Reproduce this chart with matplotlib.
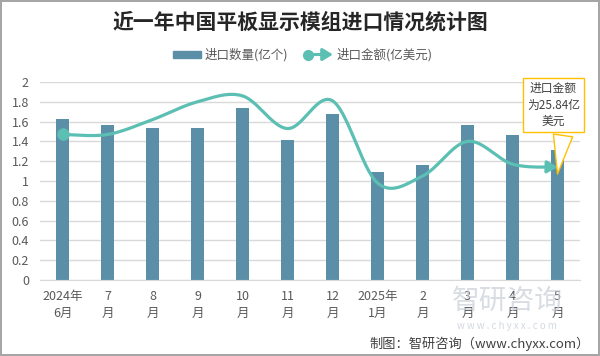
import numpy as np
import matplotlib.pyplot as plt
from matplotlib.lines import Line2D
from matplotlib.patches import Patch, FancyArrowPatch
from matplotlib.legend_handler import HandlerBase

plt.rcParams['font.family'] = ['Noto Sans CJK SC', 'DejaVu Sans']

months = ['2024年\n6月', '7\n月', '8\n月', '9\n月', '10\n月', '11\n月', '12\n月',
          '2025年\n1月', '2\n月', '3\n月', '4\n月', '5\n月']
quantity = [1.63, 1.57, 1.54, 1.54, 1.74, 1.41, 1.68, 1.09, 1.16, 1.57, 1.46, 1.31]  # 亿个
amount = [1.47, 1.47, 1.62, 1.80, 1.86, 1.53, 1.81, 0.98, 1.05, 1.40, 1.17, 1.14]
y_ticks = [0, 0.2, 0.4, 0.6, 0.8, 1, 1.2, 1.4, 1.6, 1.8, 2]

bar_color = '#5B8FA7'
line_color = '#5BBFB3'
text_color = '#595959'


def smooth(xv, yv, steps=30):
    # catmull-rom curve, similar to excel "smoothed line"
    p = np.column_stack([xv, yv]).astype(float)
    p = np.vstack([p[0], p, p[-1]])
    pts = []
    for i in range(1, len(p) - 2):
        p0, p1, p2, p3 = p[i - 1], p[i], p[i + 1], p[i + 2]
        t = np.linspace(0, 1, steps, endpoint=False)[:, None]
        c = 0.5 * ((2 * p1) + (-p0 + p2) * t + (2 * p0 - 5 * p1 + 4 * p2 - p3) * t ** 2
                   + (-p0 + 3 * p1 - 3 * p2 + p3) * t ** 3)
        pts.append(c)
    pts.append(p[-2][None, :])
    pts = np.vstack(pts)
    return pts[:, 0], pts[:, 1]


class HandlerArrowLine(HandlerBase):
    def create_artists(self, legend, orig_handle, xdescent, ydescent, width, height, fontsize, trans):
        y = height / 2 - ydescent
        x0, x1 = -xdescent, -xdescent + width
        arr = FancyArrowPatch((x0, y), (x1, y), arrowstyle='-|>,head_length=0.5,head_width=0.3',
                              mutation_scale=12, color=line_color, lw=2.2,
                              shrinkA=0, shrinkB=0, transform=trans)
        dot = Line2D([x0 + 2], [y], marker='o', ms=7, color=line_color, transform=trans)
        return [arr, dot]


fig = plt.figure(figsize=(6, 3.56), dpi=100)
fig.patch.set_edgecolor('#A6A6A6')
fig.patch.set_linewidth(1.5)
ax = fig.add_axes([40 / 600, 76 / 356, 540 / 600, 198 / 356])

x = np.arange(len(months))
ax.bar(x, quantity, width=0.31, color=bar_color, zorder=2)

sx, sy = smooth(x, amount)
ax.plot(sx[:-4], sy[:-4], color=line_color, lw=2.3, zorder=3, solid_capstyle='butt')
ax.annotate('', xy=(sx[-1], sy[-1]), xytext=(sx[-5], sy[-5]),
            arrowprops=dict(arrowstyle='-|>,head_length=0.5,head_width=0.3', mutation_scale=12,
                            color=line_color, lw=2.3, shrinkA=0, shrinkB=0), zorder=3)
ax.plot(x[0], amount[0], 'o', color=line_color, ms=8, zorder=4)

ax.annotate('进口金额\n为25.84亿\n美元', xy=(x[-1], amount[-1] - 0.07),
            xytext=(-4, 69), textcoords='offset pixels', ha='center', va='center',
            fontsize=8.5, color='#404040', linespacing=1.35, zorder=6,
            bbox=dict(boxstyle='square,pad=0.35', fc='white', ec='#FFC000', lw=1),
            arrowprops=dict(arrowstyle='wedge,tail_width=1.0', mutation_scale=14,
                            fc='white', ec='#FFC000', lw=1, relpos=(0.7, 0), shrinkB=0))

ax.set_xlim(-0.5, len(months) - 0.5)
ax.set_ylim(0, 2)
ax.set_yticks(y_ticks)
ax.set_yticklabels([f'{v:g}' for v in y_ticks])
ax.set_xticks(x)
ax.set_xticklabels(months, linespacing=1.4)
ax.tick_params(axis='both', length=0, colors=text_color, labelsize=9)
ax.tick_params(axis='x', pad=7)
ax.tick_params(axis='y', pad=8)
ax.grid(axis='y', color='#D9D9D9', lw=1, zorder=0)
for s in ['top', 'right', 'left']:
    ax.spines[s].set_visible(False)
ax.spines['bottom'].set_color('#D9D9D9')

fig.text(0.5, 0.938, '近一年中国平板显示模组进口情况统计图', ha='center', va='center',
         fontsize=15, fontweight='bold', color='#262626')

handles = [Patch(color=bar_color), Line2D([], [], color=line_color)]
fig.legend(handles, ['进口数量(亿个)', '进口金额(亿美元)'], loc='center', bbox_to_anchor=(0.505, 0.845),
           ncol=2, frameon=False, fontsize=9, labelcolor=text_color, handlelength=2.2,
           handleheight=0.6, columnspacing=1.4, handletextpad=0.3,
           handler_map={Line2D: HandlerArrowLine()})

# watermark, sits behind the tick labels like the original
fig.text(0.845, 0.155, '智研咨询', ha='center', va='center', fontsize=20, color='#C8CFD8', alpha=0.7, zorder=0)
fig.text(0.845, 0.085, 'w w w . c h y x x . c o m', ha='center', va='center', fontsize=7,
         color='#C8CFD8', alpha=0.8)
fig.text(0.983, 0.035, '制图：智研咨询（www.chyxx.com）', ha='right', va='center',
         fontsize=9.5, color='#404040')

fig.savefig('out.png', dpi=100)
